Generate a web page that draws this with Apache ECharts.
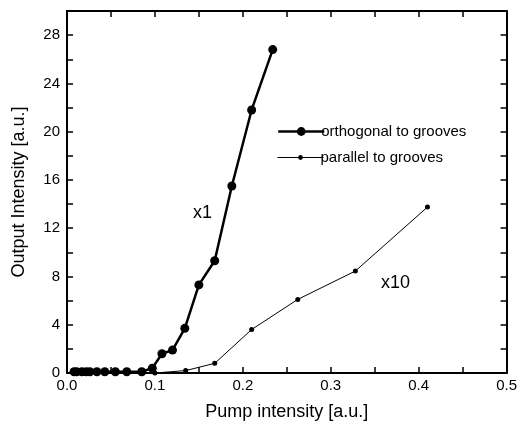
<!DOCTYPE html>
<html><head><meta charset="utf-8">
<script src="https://cdn.jsdelivr.net/npm/echarts@6/dist/echarts.min.js"></script>
<style>html,body{margin:0;padding:0;background:#fff}#c{width:520px;height:430px}</style>
</head><body><div id="c"></div>
<script>
const orthX = [0.008,0.011,0.017,0.022,0.026,0.034,0.043,0.055,0.068,0.085,0.097,0.108,0.120,0.134,0.150,0.168,0.1875,0.210,0.234];
const orthY = [0.1,0.1,0.1,0.1,0.1,0.1,0.1,0.1,0.1,0.1,0.4,1.6,1.9,3.7,7.3,9.3,15.5,21.8,26.8];
const paraX = [0.100,0.135,0.168,0.210,0.2625,0.328,0.410];
const paraY = [0.0,0.2,0.8,3.6,6.1,8.45,13.75];
const seriesNames = ['orthogonal to grooves','parallel to grooves'];
const xTitle = 'Pump intensity [a.u.]';
const yTitle = 'Output Intensity [a.u.]';
const annotations = ['x1','x10'];

const FONT = "'Liberation Sans', Arial, sans-serif";
const chart = echarts.init(document.getElementById('c'), null, {renderer:'canvas'});
const axLine = {show:true, onZero:false, lineStyle:{color:'#000', width:2}};
const tick = {show:true, inside:true, length:6, lineStyle:{color:'#000', width:1.5}};
const zipPts = (xs, ys) => xs.map((x,i)=>[x, ys[i]]);
chart.setOption({
  animation:false,
  backgroundColor:'#fff',
  grid:{left:67, right:13, top:11, bottom:57},
  xAxis:[{
    type:'value', min:0, max:0.5, interval:0.05, position:'bottom',
    axisLine:axLine, axisTick:tick, splitLine:{show:false},
    axisLabel:{color:'#000', fontFamily:FONT, fontSize:15, margin:5,
      formatter:v=>(Math.round(v*100)%10===0 ? v.toFixed(1) : '')},
    name:xTitle, nameLocation:'middle', nameGap:30,
    nameTextStyle:{color:'#000', fontFamily:FONT, fontSize:18}
  },{
    type:'value', min:0, max:0.5, interval:0.05, position:'top',
    axisLine:axLine, axisTick:tick, splitLine:{show:false}, axisLabel:{show:false}
  }],
  yAxis:[{
    type:'value', min:0, max:30, interval:2, position:'left',
    axisLine:axLine, axisTick:tick, splitLine:{show:false},
    axisLabel:{color:'#000', fontFamily:FONT, fontSize:15, margin:7,
      formatter:v=>(v%4===0 ? String(v) : '')},
    name:yTitle, nameLocation:'middle', nameGap:39,
    nameTextStyle:{color:'#000', fontFamily:FONT, fontSize:18}
  },{
    type:'value', min:0, max:30, interval:2, position:'right',
    axisLine:axLine, axisTick:tick, splitLine:{show:false}, axisLabel:{show:false}
  }],
  legend:[{
    data:[seriesNames[0]], left:272, top:119, orient:'vertical',
    itemWidth:46, itemHeight:11, itemGap:0,
    lineStyle:{width:2.5},
    textStyle:{color:'#000', fontFamily:FONT, fontSize:15, padding:[0,0,0,-8]}
  },{
    data:[seriesNames[1]], left:272, top:145, orient:'vertical',
    itemWidth:46, itemHeight:6, itemGap:0,
    lineStyle:{width:1},
    textStyle:{color:'#000', fontFamily:FONT, fontSize:15, padding:[0,0,0,-8]}
  }],
  graphic:[
    {type:'text', left:193, top:204, style:{text:annotations[0], fill:'#000', font:'18px '+FONT}},
    {type:'text', left:381, top:274, style:{text:annotations[1], fill:'#000', font:'18px '+FONT}}
  ],
  series:[{
    name:seriesNames[0], type:'line', data:zipPts(orthX, orthY),
    symbol:'circle', symbolSize:9, showSymbol:true,
    lineStyle:{color:'#000', width:2.5}, itemStyle:{color:'#000'}, z:3
  },{
    name:seriesNames[1], type:'line', data:zipPts(paraX, paraY),
    symbol:'circle', symbolSize:5, showSymbol:true,
    lineStyle:{color:'#000', width:1}, itemStyle:{color:'#000'}, z:2
  }]
});
</script></body></html>
